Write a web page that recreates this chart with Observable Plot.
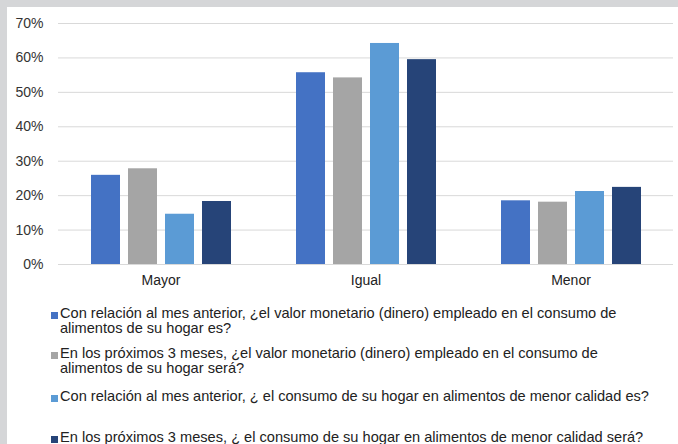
<!DOCTYPE html>
<html>
<head>
<meta charset="utf-8">
<script src="https://cdn.jsdelivr.net/npm/d3@7"></script>
<script src="https://cdn.jsdelivr.net/npm/@observablehq/plot@0.6"></script>
<style>
  body { margin: 0; }
  #wrap { position: relative; width: 678px; height: 444px; background: #d5d6d8; overflow: hidden; font-family: "Liberation Sans", Arial, sans-serif; }
  #panel { position: absolute; left: 7px; top: 7px; right: 0; bottom: 0; background: #ffffff; }
  #chart { position: absolute; left: 0; top: 0; }
  .item { position: absolute; left: 51px; width: 607px; font-size: 14.6px; line-height: 15px; color: #222; }
  .sw { position: absolute; left: 0; top: 6px; width: 7px; height: 7px; }
  .txt { margin-left: 9px; }
</style>
</head>
<body>
<div id="wrap">
  <div id="panel"></div>
  <div id="chart"></div>
  <div id="legend"></div>
</div>
<script>
const categories = ["Mayor", "Igual", "Menor"];
const seriesNames = [
  "Con relación al mes anterior, ¿el valor monetario (dinero) empleado en el consumo de alimentos de su hogar es?",
  "En los próximos 3 meses, ¿el valor monetario (dinero) empleado en el consumo de alimentos de su hogar será?",
  "Con relación al mes anterior, ¿ el consumo de su hogar en alimentos de menor calidad es?",
  "En los próximos 3 meses, ¿ el consumo de su hogar en alimentos de menor calidad será?"
];
const series1 = [25.9, 55.7, 18.5];
const series2 = [27.8, 54.2, 18.1];
const series3 = [14.6, 64.2, 21.2];
const series4 = [18.3, 59.5, 22.4];
const yTickValues = [0, 10, 20, 30, 40, 50, 60, 70];
const yTickLabels = ["0%", "10%", "20%", "30%", "40%", "50%", "60%", "70%"];
const colors = ["#4472c4", "#a5a5a5", "#5b9bd5", "#264478"];

const allSeries = [series1, series2, series3, series4];
const data = [];
categories.forEach((c, ci) => {
  allSeries.forEach((s, si) => {
    data.push({cat: c, series: seriesNames[si], value: s[ci]});
  });
});

const chart = Plot.plot({
  width: 678,
  height: 300,
  marginLeft: 57,
  marginRight: 5,
  marginTop: 23,
  marginBottom: 36,
  style: {background: "transparent", fontFamily: "Liberation Sans, Arial, sans-serif", fontSize: "14px", color: "#333"},
  fx: {domain: categories, padding: 0, label: null},
  x: {domain: seriesNames, paddingInner: 0.22, paddingOuter: 0.865, axis: null},
  y: {domain: [0, 70], label: null},
  color: {domain: seriesNames, range: colors},
  marks: [
    Plot.gridY(yTickValues, {stroke: "#d9d9d9", strokeOpacity: 1, strokeWidth: 1}),
    Plot.barY(data, {fx: "cat", x: "series", y: "value", fill: "series"}),
    Plot.axisY({ticks: yTickValues, tickFormat: (d) => yTickLabels[yTickValues.indexOf(d)], tickSize: 0, tickPadding: 15, fontSize: 14, label: null, fill: "#333"}),
    Plot.axisFx({anchor: "bottom", tickSize: 0, tickPadding: 11, fontSize: 14, label: null, fill: "#222"})
  ]
});
document.getElementById("chart").appendChild(chart);

const legendTops = [306, 346, 389, 430];
const legend = document.getElementById("legend");
seriesNames.forEach((name, i) => {
  const item = document.createElement("div");
  item.className = "item";
  item.style.top = legendTops[i] + "px";
  const sw = document.createElement("div");
  sw.className = "sw";
  sw.style.background = colors[i];
  const t = document.createElement("div");
  t.className = "txt";
  t.textContent = name;
  item.appendChild(sw);
  item.appendChild(t);
  legend.appendChild(item);
});
</script>
</body>
</html>
